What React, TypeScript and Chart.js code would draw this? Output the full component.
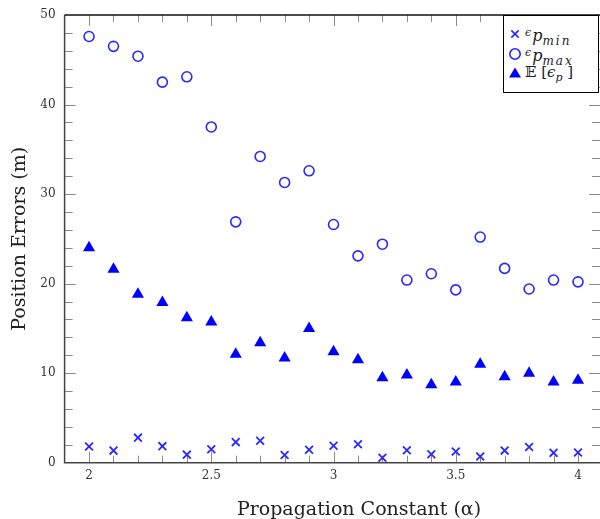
import React, { useEffect, useRef } from "react";
import { Chart, registerables } from "chart.js";
Chart.register(...registerables);

const alphaValues = [2.0, 2.1, 2.2, 2.3, 2.4, 2.5, 2.6, 2.7, 2.8, 2.9, 3.0, 3.1, 3.2, 3.3, 3.4, 3.5, 3.6, 3.7, 3.8, 3.9, 4.0];
const epMin = [1.8, 1.35, 2.8, 1.85, 0.9, 1.5, 2.3, 2.45, 0.85, 1.45, 1.9, 2.05, 0.55, 1.4, 0.95, 1.25, 0.7, 1.35, 1.75, 1.1, 1.15];
const epMax = [47.6, 46.5, 45.4, 42.5, 43.1, 37.5, 26.9, 34.2, 31.3, 32.6, 26.6, 23.1, 24.4, 20.4, 21.1, 19.3, 25.2, 21.7, 19.4, 20.4, 20.2];
const epMean = [24.0, 21.6, 18.8, 17.9, 16.2, 15.7, 12.1, 13.4, 11.7, 15.0, 12.4, 11.5, 9.5, 9.8, 8.7, 9.0, 11.0, 9.6, 10.0, 9.0, 9.2];

const xTickValues = [2, 2.5, 3, 3.5, 4];
const xTickLabels = ["2", "2.5", "3", "3.5", "4"];
const yTickValues = [0, 10, 20, 30, 40, 50];
const yTickLabels = ["0", "10", "20", "30", "40", "50"];

const xAxisTitle = "Propagation Constant (\u03b1)";
const yAxisTitle = "Position Errors (m)";

const BLUE = "rgb(40,40,255)";
const FILL_BLUE = "#0000ff";

const framePlugin = {
  id: "frameTicks",
  beforeDatasetsDraw(chart: any) {
    const { ctx, chartArea, scales } = chart;
    const { left, right, top, bottom } = chartArea;
    const xs = scales.x;
    const ys = scales.y;
    ctx.save();
    ctx.strokeStyle = "#8a8a8a";
    ctx.lineWidth = 1;
    ctx.beginPath();
    for (let k = 19; k <= 41; k++) {
      const v = k / 10;
      const px = Math.round(xs.getPixelForValue(v)) + 0.5;
      if (px <= left + 1 || px >= right - 1) continue;
      const len = k % 5 === 0 ? 11 : 7;
      ctx.moveTo(px, bottom);
      ctx.lineTo(px, bottom - len);
      ctx.moveTo(px, top);
      ctx.lineTo(px, top + len);
    }
    for (let k = 1; k < 25; k++) {
      const v = k * 2;
      const py = Math.round(ys.getPixelForValue(v)) + 0.5;
      const len = v % 10 === 0 ? 11 : 8;
      ctx.moveTo(left, py);
      ctx.lineTo(left + len, py);
      ctx.moveTo(right, py);
      ctx.lineTo(right - len, py);
    }
    ctx.stroke();
    ctx.strokeStyle = "#444";
    ctx.lineWidth = 1.5;
    ctx.beginPath();
    ctx.moveTo(left, top);
    ctx.lineTo(left, bottom);
    ctx.lineTo(right, bottom);
    ctx.stroke();
    ctx.strokeStyle = "#111";
    ctx.beginPath();
    ctx.moveTo(left, top);
    ctx.lineTo(right, top);
    ctx.stroke();
    ctx.restore();
  },
};

function LegendMarker({ kind }: { kind: string }) {
  return (
    <svg width="14" height="14" viewBox="0 0 14 14" style={{ position: "absolute", left: 4, top: 3 }}>
      {kind === "cross" && (
        <g stroke={BLUE} strokeWidth="1.7">
          <line x1="3.3" y1="3.3" x2="10.7" y2="10.7" />
          <line x1="10.7" y1="3.3" x2="3.3" y2="10.7" />
        </g>
      )}
      {kind === "circle" && <circle cx="7" cy="7" r="5.2" fill="none" stroke={BLUE} strokeWidth="1.6" />}
      {kind === "triangle" && <polygon points="7,1.5 13,11.5 1,11.5" fill={FILL_BLUE} />}
    </svg>
  );
}

export default function App() {
  const canvasRef = useRef<HTMLCanvasElement | null>(null);

  useEffect(() => {
    if (!canvasRef.current) return;
    const mk = (vals: number[]) => alphaValues.map((a, i) => ({ x: a, y: vals[i] }));
    const chart = new Chart(canvasRef.current, {
      type: "scatter",
      data: {
        datasets: [
          {
            label: "\u03f5p_min",
            data: mk(epMin),
            pointStyle: "crossRot",
            pointRadius: 5.5,
            borderColor: BLUE,
            backgroundColor: BLUE,
            borderWidth: 1.8,
          },
          {
            label: "\u03f5p_max",
            data: mk(epMax),
            pointStyle: "circle",
            pointRadius: 5,
            borderColor: BLUE,
            backgroundColor: "rgba(0,0,0,0)",
            borderWidth: 1.6,
          },
          {
            label: "E[\u03f5p]",
            data: mk(epMean),
            pointStyle: "triangle",
            pointRadius: 7,
            borderColor: FILL_BLUE,
            backgroundColor: FILL_BLUE,
            borderWidth: 0,
          },
        ],
      },
      options: {
        responsive: false,
        animation: false,
        layout: { autoPadding: false, padding: { top: 15, right: 0, left: 0, bottom: 0 } },
        plugins: { legend: { display: false }, tooltip: { enabled: false } },
        scales: {
          x: {
            type: "linear",
            min: 1.9,
            max: 4.09,
            grid: { display: false, drawTicks: false },
            border: { display: false },
            afterBuildTicks: (scale: any) => {
              scale.ticks = xTickValues.map((v) => ({ value: v }));
            },
            afterFit: (scale: any) => {
              scale.height = 56.3;
              scale.paddingLeft = 0;
              scale.paddingRight = 0;
            },
            ticks: {
              padding: 6,
              color: "#333",
              font: { family: "DejaVu Serif", size: 12 },
              callback: (v: any) => {
                const i = xTickValues.indexOf(Number(v));
                return i >= 0 ? xTickLabels[i] : "";
              },
            },
          },
          y: {
            type: "linear",
            min: 0,
            max: 50,
            grid: { display: false, drawTicks: false },
            border: { display: false },
            afterBuildTicks: (scale: any) => {
              scale.ticks = yTickValues.map((v) => ({ value: v }));
            },
            afterFit: (scale: any) => {
              scale.width = 64.6;
              scale.paddingTop = 0;
              scale.paddingBottom = 0;
            },
            title: {
              display: true,
              text: yAxisTitle,
              color: "#222",
              font: { family: "DejaVu Serif", size: 19, lineHeight: 1.2 },
              padding: { top: 9, bottom: 0 },
            },
            ticks: {
              padding: 9,
              color: "#333",
              font: { family: "DejaVu Serif", size: 12 },
              callback: (v: any) => {
                const i = yTickValues.indexOf(Number(v));
                return i >= 0 ? yTickLabels[i] : "";
              },
            },
          },
        },
      },
      plugins: [framePlugin],
    });
    return () => chart.destroy();
  }, []);

  const legendText: React.CSSProperties = {
    position: "absolute",
    left: 21,
    top: -1,
    height: 20,
    lineHeight: "20px",
    fontFamily: "DejaVu Serif",
    fontSize: 16,
    color: "#222",
    whiteSpace: "nowrap",
  };
  const sub: React.CSSProperties = { fontSize: 12, fontStyle: "italic", letterSpacing: 2 };
  const eps: React.CSSProperties = { fontSize: 11, fontStyle: "italic", verticalAlign: 5, marginRight: 1 };

  return (
    <div style={{ position: "absolute", left: 0, top: 0, width: 600, height: 519, overflow: "hidden", background: "#fff" }}>
      <canvas ref={canvasRef} width={600} height={519} style={{ display: "block", position: "absolute", left: 0, top: 0 }} />
      <div
        style={{
          position: "absolute",
          left: 359,
          top: 497,
          transform: "translateX(-50%)",
          fontFamily: "DejaVu Serif",
          fontSize: 19,
          lineHeight: "22px",
          color: "#222",
          whiteSpace: "nowrap",
        }}
      >
        {xAxisTitle}
      </div>
      <div
        style={{
          position: "absolute",
          left: 503,
          top: 15,
          width: 96,
          height: 78,
          boxSizing: "border-box",
          border: "1.5px solid #000",
          background: "#fff",
        }}
      >
        <div style={{ position: "absolute", left: 0, top: 8, width: 94, height: 20 }}>
          <LegendMarker kind="cross" />
          <span style={legendText}>
            <span style={eps}>{"\u03f5"}</span>
            <i>p</i>
            <sub style={sub}>min</sub>
          </span>
        </div>
        <div style={{ position: "absolute", left: 0, top: 28, width: 94, height: 20 }}>
          <LegendMarker kind="circle" />
          <span style={legendText}>
            <span style={eps}>{"\u03f5"}</span>
            <i>p</i>
            <sub style={sub}>max</sub>
          </span>
        </div>
        <div style={{ position: "absolute", left: 0, top: 47, width: 94, height: 20 }}>
          <LegendMarker kind="triangle" />
          <span style={{ ...legendText, fontSize: 15 }}>
            {"\ud835\udd3c ["}
            <i>{"\u03f5"}</i>
            <sub style={{ fontSize: 11, fontStyle: "italic" }}>p</sub>
            {" ]"}
          </span>
        </div>
      </div>
    </div>
  );
}
